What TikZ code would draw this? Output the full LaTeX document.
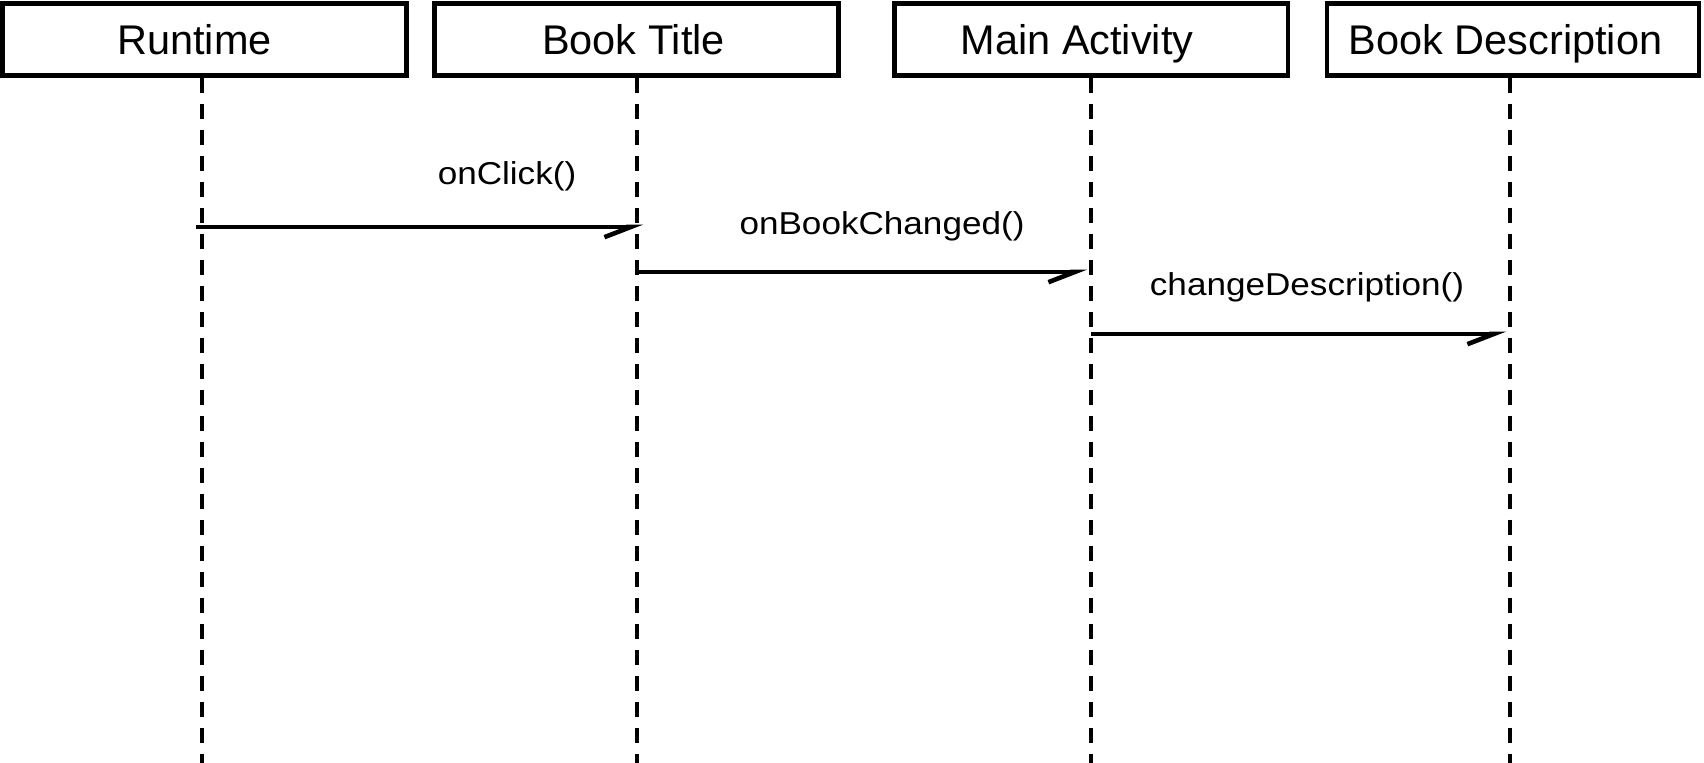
\documentclass[tikz,border=0pt]{standalone}
\usepackage{fontspec}
\setmainfont{Liberation Sans}
\newfontfamily\cimkeBetu[FakeStretch=1.11]{Liberation Sans}
\usetikzlibrary{arrows.meta}
\newcommand{\dobozMagassag}{0.72}
\newcommand{\dobozKozep}{-0.395}
\newcommand{\eletvonalAlja}{-7.63}
\newcommand{\vonalVastagsag}{1.15pt}
\tikzset{
	doboz/.style={draw,line width=\vonalVastagsag,minimum height=\dobozMagassag cm,inner sep=0pt,
		text height=8.5pt,text depth=0pt,font=\fontsize{11.8}{14}\selectfont},
	eletvonal/.style={line width=1pt,dash pattern=on 4.3pt off 3.1pt},
	uzenet/.style={line width=1.05pt,-{Straight Barb[harpoon,swap,length=7.5pt,width=5.8pt,line width=1.3pt]}},
	cimke/.style={anchor=base,inner sep=0pt,font=\cimkeBetu\fontsize{9}{11}\selectfont}
}
\begin{document}
\begin{tikzpicture}
	\useasboundingbox (0,0) rectangle (17.04,-7.63);
	% objektumok
	\node[doboz,minimum width=4.04cm] (runtime) at (2.045,\dobozKozep) {\hspace*{-0.2cm}Runtime};
	\node[doboz,minimum width=4.04cm] (bookTitle) at (6.365,\dobozKozep) {\hspace*{-0.06cm}Book Title};
	\node[doboz,minimum width=3.93cm] (mainActivity) at (10.91,\dobozKozep) {\hspace*{-0.28cm}Main Activity};
	\node[doboz,minimum width=3.72cm] (bookDesc) at (15.125,\dobozKozep) {\hspace*{-0.14cm}Book Description};
	% életvonalak
	\coordinate (runtimeAlja) at (2.02,\eletvonalAlja);
	\coordinate (bookTitleAlja) at (6.37,\eletvonalAlja);
	\coordinate (mainActivityAlja) at (10.91,\eletvonalAlja);
	\coordinate (bookDescAlja) at (15.1,\eletvonalAlja);
	\draw[eletvonal] (runtimeAlja |- runtime.south)--(runtimeAlja)
	(bookTitleAlja |- bookTitle.south)--(bookTitleAlja)
	(mainActivityAlja |- mainActivity.south)--(mainActivityAlja)
	(bookDescAlja |- bookDesc.south)--(bookDescAlja);
	% üzenetek
	\coordinate (katt1) at (1.96,-2.27);
	\coordinate (katt2) at (6.43,-2.27);
	\coordinate (konyv1) at (6.37,-2.72);
	\coordinate (konyv2) at (10.87,-2.72);
	\coordinate (leiras1) at (10.91,-3.34);
	\coordinate (leiras2) at (15.06,-3.34);
	\draw[uzenet] (katt1)--(katt2);
	\draw[uzenet] (konyv1)--(konyv2);
	\draw[uzenet] (leiras1)--(leiras2);
	\node[cimke] (kattCimke) at (5.07,-1.85) {onClick()};
	\node[cimke] (konyvCimke) at (8.82,-2.35) {onBookChanged()};
	\node[cimke] (leirasCimke) at (13.07,-2.96) {changeDescription()};
\end{tikzpicture}
\end{document}
